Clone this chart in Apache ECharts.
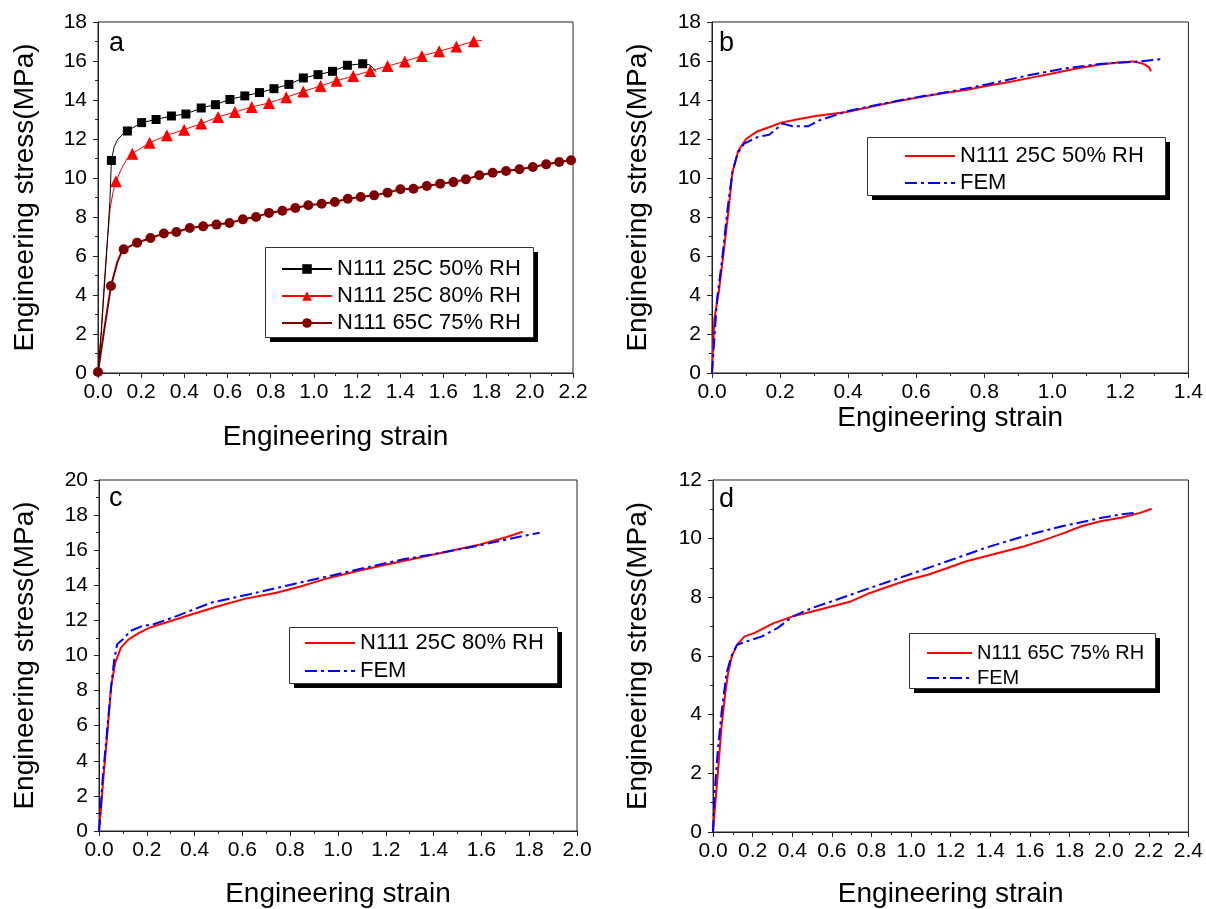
<!DOCTYPE html>
<html>
<head>
<meta charset="utf-8">
<script src="https://cdn.jsdelivr.net/npm/echarts@6/dist/echarts.min.js"></script>
<style>html,body{margin:0;padding:0;background:#fff}#c{width:1206px;height:909px}</style>
</head>
<body>
<div id="c"></div>
<script>
// ---------- Data ----------
// Panel a: N111 25C 50% RH (black squares)
const aBlackLineX = [0, 0.015, 0.03, 0.045, 0.055, 0.075, 0.09, 0.11, 1.26, 1.275, 1.288];
const aBlackLineY = [0, 2.0, 4.5, 7.0, 8.8, 11.6, 11.95, 12.2, 15.8, 15.63, 15.45];
const aBlackMarkX = [0.062, 0.136, 0.202, 0.269, 0.340, 0.407, 0.478, 0.544, 0.611, 0.680, 0.748, 0.815, 0.884, 0.951, 1.019, 1.086, 1.155, 1.226];
const aBlackMarkY = [10.9, 12.41, 12.84, 13.0, 13.18, 13.28, 13.59, 13.76, 14.03, 14.21, 14.38, 14.58, 14.80, 15.13, 15.30, 15.47, 15.78, 15.86];
// Panel a: N111 25C 80% RH (red triangles)
const aRedLineX = [0, 0.015, 0.03, 0.045, 0.056, 0.07, 0.11, 0.13, 1.779];
const aRedLineY = [0, 2.2, 4.8, 7.0, 8.4, 9.3, 10.5, 10.9, 17.06];
const aRedMarkX = [0.083, 0.159, 0.239, 0.319, 0.399, 0.478, 0.556, 0.634, 0.712, 0.792, 0.872, 0.951, 1.031, 1.105, 1.182, 1.261, 1.341, 1.421, 1.500, 1.580, 1.660, 1.740];
const aRedMarkY = [9.83, 11.25, 11.81, 12.19, 12.48, 12.79, 13.13, 13.38, 13.64, 13.85, 14.14, 14.44, 14.72, 14.99, 15.23, 15.49, 15.74, 15.98, 16.26, 16.50, 16.75, 17.01];
// Panel a: N111 65C 75% RH (dark red circles)
const aDarkLineX = [0.03, 0.09, 0.105];
const aDarkLineY = [2.3, 5.7, 6.1];
const aDarkMarkX = [0, 0.060, 0.119, 0.181, 0.243, 0.305, 0.363, 0.425, 0.487, 0.549, 0.609, 0.671, 0.732, 0.792, 0.854, 0.914, 0.974, 1.036, 1.097, 1.157, 1.217, 1.279, 1.341, 1.401, 1.461, 1.523, 1.585, 1.646, 1.704, 1.766, 1.828, 1.890, 1.952, 2.014, 2.076, 2.136, 2.191];
const aDarkMarkY = [0.05, 4.46, 6.34, 6.68, 6.92, 7.15, 7.23, 7.44, 7.52, 7.61, 7.69, 7.88, 8.0, 8.21, 8.32, 8.46, 8.6, 8.68, 8.77, 8.94, 9.03, 9.11, 9.25, 9.42, 9.45, 9.59, 9.71, 9.79, 9.93, 10.14, 10.27, 10.36, 10.45, 10.56, 10.70, 10.82, 10.91];

// Panel b
const bExpX = [0, 0.007, 0.02, 0.032, 0.049, 0.06, 0.077, 0.1, 0.134, 0.168, 0.203, 0.26, 0.305, 0.396, 0.464, 0.533, 0.601, 0.669, 0.749, 0.806, 0.874, 0.942, 1.011, 1.068, 1.136, 1.193, 1.238, 1.267, 1.284, 1.290];
const bExpY = [0, 2.8, 4.15, 5.86, 8.4, 10.3, 11.4, 12.0, 12.4, 12.6, 12.84, 13.04, 13.18, 13.38, 13.64, 13.9, 14.12, 14.32, 14.53, 14.72, 14.92, 15.16, 15.4, 15.6, 15.81, 15.92, 15.98, 15.86, 15.69, 15.47];
const bFemX = [0, 0.005, 0.015, 0.03, 0.047, 0.06, 0.075, 0.094, 0.134, 0.168, 0.208, 0.237, 0.282, 0.316, 0.396, 0.487, 0.578, 0.692, 0.806, 0.92, 1.033, 1.147, 1.261, 1.318];
const bFemY = [0, 1.25, 3.8, 5.86, 8.6, 10.3, 11.25, 11.76, 12.1, 12.22, 12.79, 12.65, 12.65, 12.96, 13.42, 13.76, 14.07, 14.41, 14.79, 15.23, 15.61, 15.86, 15.98, 16.09];

// Panel c
const cExpX = [0, 0.008, 0.019, 0.035, 0.051, 0.068, 0.092, 0.124, 0.164, 0.212, 0.277, 0.389, 0.502, 0.614, 0.743, 0.839, 0.952, 1.113, 1.273, 1.434, 1.595, 1.707, 1.772];
const cExpY = [0, 1.23, 3.13, 5.6, 8.26, 9.59, 10.45, 10.92, 11.26, 11.59, 11.87, 12.35, 12.82, 13.24, 13.58, 13.92, 14.38, 14.91, 15.38, 15.86, 16.33, 16.75, 17.05];
const cFemX = [0, 0.006, 0.016, 0.032, 0.051, 0.064, 0.076, 0.1, 0.132, 0.18, 0.228, 0.309, 0.469, 0.63, 0.807, 0.952, 1.113, 1.273, 1.434, 1.595, 1.707, 1.844];
const cFemY = [0, 1.04, 3.13, 5.41, 8.26, 9.78, 10.64, 10.92, 11.4, 11.68, 11.78, 12.16, 13.01, 13.49, 14.05, 14.49, 15.0, 15.48, 15.86, 16.28, 16.62, 17.0];

// Panel d
const dExpX = [0, 0.01, 0.023, 0.043, 0.062, 0.076, 0.095, 0.121, 0.16, 0.208, 0.306, 0.403, 0.501, 0.598, 0.696, 0.793, 0.89, 0.988, 1.085, 1.183, 1.28, 1.377, 1.475, 1.572, 1.67, 1.767, 1.864, 1.962, 2.059, 2.157, 2.215];
const dExpY = [0, 0.85, 1.88, 3.59, 4.73, 5.41, 5.98, 6.38, 6.67, 6.78, 7.12, 7.35, 7.52, 7.69, 7.86, 8.15, 8.38, 8.6, 8.77, 9.0, 9.23, 9.4, 9.57, 9.74, 9.95, 10.18, 10.43, 10.6, 10.71, 10.88, 11.02];
const dFemX = [0, 0.008, 0.023, 0.043, 0.068, 0.092, 0.121, 0.17, 0.247, 0.325, 0.403, 0.501, 0.598, 0.793, 0.988, 1.183, 1.377, 1.572, 1.767, 1.962, 2.059, 2.127];
const dFemY = [0, 1.31, 2.68, 4.05, 5.41, 5.98, 6.38, 6.5, 6.67, 6.95, 7.35, 7.64, 7.86, 8.32, 8.77, 9.23, 9.69, 10.09, 10.43, 10.71, 10.83, 10.88];

// Axis ranges
const xMax = [2.2, 1.4, 2.0, 2.4];
const yMax = [18, 18, 20, 12];
const panelLetters = ['a', 'b', 'c', 'd'];
const LABELS = {
  a1: 'N111 25C 50% RH', a2: 'N111 25C 80% RH', a3: 'N111 65C 75% RH',
  b1: 'N111 25C 50% RH', b2: 'FEM',
  c1: 'N111 25C 80% RH', c2: 'FEM',
  d1: 'N111 65C 75% RH', d2: 'FEM'
};

// ---------- Helpers ----------
const FONT = '"Liberation Sans", Arial, sans-serif';
function pts(xs, ys) { return xs.map((x, i) => [x, ys[i]]); }
function merged(lx, ly, mx, my) {
  const items = [];
  lx.forEach((x, i) => items.push({ value: [x, ly[i]], symbol: 'none' }));
  mx.forEach((x, i) => items.push({ value: [x, my[i]] }));
  items.sort((p, q) => p.value[0] - q.value[0]);
  return items;
}

const grids = [
  { left: 98, top: 22, width: 475, height: 351 },
  { left: 712, top: 22, width: 477, height: 351 },
  { left: 99, top: 480, width: 478, height: 352 },
  { left: 713, top: 480, width: 477, height: 353 }
].map(g => Object.assign(g, { show: true, borderColor: '#222', borderWidth: 1, backgroundColor: 'transparent' }));

const xNameGap = [50, 30, 49, 48];
const yNameGap = [59, 60, 60, 61];

const xAxes = xMax.map((m, i) => ({
  gridIndex: i, type: 'value', min: 0, max: m, interval: 0.2,
  axisLine: { show: true, onZero: false, lineStyle: { color: '#222', width: 1 } },
  axisTick: { show: true, inside: false, length: 5, lineStyle: { color: '#222' } },
  minorTick: { show: true, splitNumber: 2, length: 3, lineStyle: { color: '#222' } },
  splitLine: { show: false },
  axisLabel: { color: '#000', fontSize: 21, fontFamily: FONT, margin: 9, formatter: v => v.toFixed(1) },
  name: 'Engineering strain', nameLocation: 'middle', nameGap: xNameGap[i],
  nameTextStyle: { color: '#000', fontSize: 28, fontFamily: FONT }
}));
const yAxes = yMax.map((m, i) => ({
  gridIndex: i, type: 'value', min: 0, max: m, interval: 2,
  axisLine: { show: true, onZero: false, lineStyle: { color: '#222', width: 1 } },
  axisTick: { show: true, inside: false, length: 5, lineStyle: { color: '#222' } },
  minorTick: { show: true, splitNumber: 2, length: 3, lineStyle: { color: '#222' } },
  splitLine: { show: false },
  axisLabel: { color: '#000', fontSize: 21, fontFamily: FONT, margin: 11 },
  name: 'Engineering stress(MPa)', nameLocation: 'middle', nameGap: yNameGap[i],
  nameTextStyle: { color: '#000', fontSize: 28, fontFamily: FONT }
}));

const FEM_DASH = [12, 4, 3, 4];
function expSeries(name, idx, data) {
  return { name, type: 'line', xAxisIndex: idx, yAxisIndex: idx, data, symbol: 'none',
    color: '#ff0000', lineStyle: { color: '#ff0000', width: 2 }, z: 2 };
}
function femSeries(name, idx, data) {
  return { name, type: 'line', xAxisIndex: idx, yAxisIndex: idx, data, symbol: 'none',
    color: '#0000ff', lineStyle: { color: '#0000ff', width: 2, type: FEM_DASH }, z: 3 };
}

const series = [
  { name: 'a1', type: 'line', xAxisIndex: 0, yAxisIndex: 0, data: merged(aBlackLineX, aBlackLineY, aBlackMarkX, aBlackMarkY),
    symbol: 'rect', symbolSize: 9, showSymbol: true, color: '#000', itemStyle: { color: '#000' }, lineStyle: { color: '#000', width: 1 }, z: 4 },
  { name: 'a2', type: 'line', xAxisIndex: 0, yAxisIndex: 0, data: merged(aRedLineX, aRedLineY, aRedMarkX, aRedMarkY),
    symbol: 'triangle', symbolSize: 12, showSymbol: true, color: '#ff0000', itemStyle: { color: '#ff0000' }, lineStyle: { color: '#ff0000', width: 1 }, z: 3 },
  { name: 'a3', type: 'line', xAxisIndex: 0, yAxisIndex: 0, data: merged(aDarkLineX, aDarkLineY, aDarkMarkX, aDarkMarkY),
    symbol: 'circle', symbolSize: 10, showSymbol: true, color: '#800000', itemStyle: { color: '#800000' }, lineStyle: { color: '#800000', width: 2 }, z: 2 },
  expSeries('b1', 1, pts(bExpX, bExpY)), femSeries('b2', 1, pts(bFemX, bFemY)),
  expSeries('c1', 2, pts(cExpX, cExpY)), femSeries('c2', 2, pts(cFemX, cFemY)),
  expSeries('d1', 3, pts(dExpX, dExpY)), femSeries('d2', 3, pts(dFemX, dFemY))
];

function legendBox(data, left, top, padding, gap, fontSize, itemWidth, hideSymbol) {
  const l = {
    data, left, top, orient: 'vertical', padding, itemGap: gap, itemWidth, itemHeight: 12,
    formatter: n => LABELS[n], selectedMode: false, z: 6,
    backgroundColor: 'transparent', borderWidth: 0,
    textStyle: { color: '#000', fontSize, fontFamily: FONT, lineHeight: fontSize }
  };
  if (hideSymbol) l.itemStyle = { opacity: 0 };
  return l;
}

const legends = [
  legendBox(['a1', 'a2', 'a3'], 265, 247, [11, 8, 3, 16], 5, 22, 50, false),
  legendBox(['b1', 'b2'], 867, 137, [8, 19, 2, 37], 5, 22, 50, true),
  legendBox(['c1', 'c2'], 289, 627, [5, 10, 1, 15], 6, 22, 50, true),
  legendBox(['d1', 'd2'], 909, 633, [10, 12, 1, 17], 5, 20, 45, true)
];

// legend frames [x, y, w, h]
const legendFrames = [[265, 247, 268, 90], [867, 137, 298, 58], [289, 627, 268, 56], [909, 633, 246, 55]];

const letterPos = [[109, 30], [719, 30], [109, 485], [719, 486]];
const graphic = [];
legendFrames.forEach(f => {
  graphic.push({ type: 'rect', z: 3, shape: { x: f[0] + 5, y: f[1] + 5, width: f[2], height: f[3] }, style: { fill: '#000' } });
  graphic.push({ type: 'rect', z: 4, shape: { x: f[0] + 0.5, y: f[1] + 0.5, width: f[2], height: f[3] }, style: { fill: '#fff', stroke: '#333', lineWidth: 1 } });
});
panelLetters.forEach((t, i) => graphic.push({
  type: 'text', x: letterPos[i][0], y: letterPos[i][1], z: 10,
  style: { text: t, fill: '#000', fontSize: 27, fontFamily: FONT, verticalAlign: 'top' }
}));

const chart = echarts.init(document.getElementById('c'), null, { renderer: 'canvas' });
chart.setOption({
  animation: false,
  backgroundColor: '#fff',
  grid: grids,
  xAxis: xAxes,
  yAxis: yAxes,
  legend: legends,
  series,
  graphic
});
</script>
</body>
</html>
